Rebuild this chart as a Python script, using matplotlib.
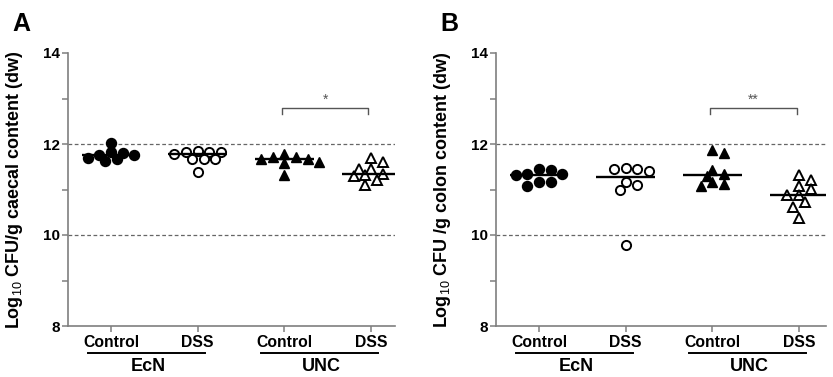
import matplotlib
matplotlib.use('Agg')
import matplotlib.pyplot as plt
import numpy as np
from matplotlib.transforms import blended_transform_factory

plt.rcParams['font.family'] = ['Liberation Sans', 'DejaVu Sans']
plt.rcParams['mathtext.fontset'] = 'custom'
plt.rcParams['mathtext.rm'] = 'Liberation Sans'
plt.rcParams['mathtext.bf'] = 'Liberation Sans:bold'

# ---------------- data ----------------
categories = ['Control', 'DSS', 'Control', 'DSS']
group_names = ['EcN', 'UNC']

caecal_ecn_control = [12.02, 11.82, 11.80, 11.75, 11.75, 11.70, 11.68, 11.62]
caecal_ecn_dss = [11.78, 11.83, 11.68, 11.83, 11.68, 11.83, 11.68, 11.85, 11.38]
caecal_unc_control = [11.68, 11.61, 11.72, 11.59, 11.77, 11.66, 11.72, 11.31]
caecal_unc_dss = [11.70, 11.61, 11.35, 11.44, 11.46, 11.29, 11.09, 11.20, 11.31]

colon_ecn_control = [11.46, 11.35, 11.16, 11.33, 11.07, 11.42, 11.16, 11.31]
colon_ecn_dss = [11.44, 11.40, 11.44, 11.48, 11.09, 11.00, 11.16, 9.78]
colon_unc_control = [11.81, 11.86, 11.42, 11.33, 11.29, 11.16, 11.07, 11.11]
colon_unc_dss = [11.20, 11.31, 11.02, 11.07, 10.87, 10.89, 10.72, 10.61, 10.37]

y_ticks = [8, 10, 12, 14]
ref_lines = [10, 12]
sig_A = '*'
sig_B = '**'

panels = [
    dict(letter='A', ylabel='Log$_{10}$ CFU/g caecal content (dw)',
         data=[caecal_ecn_control, caecal_ecn_dss, caecal_unc_control, caecal_unc_dss],
         sig=sig_A),
    dict(letter='B', ylabel='Log$_{10}$ CFU /g colon content (dw)',
         data=[colon_ecn_control, colon_ecn_dss, colon_unc_control, colon_unc_dss],
         sig=sig_B),
]

markers = ['o', 'o', '^', '^']
filled = [True, False, True, False]

W, H = 833, 377
fig = plt.figure(figsize=(W / 100, H / 100), dpi=100)
ax_rects = [
    [68 / W, 51 / H, 327 / W, 273 / H],
    [496 / W, 51 / H, 330 / W, 273 / H],
]
xlims = [(-0.496, 3.276), (-0.496, 3.31)]
gray = '#7f7f7f'


def swarm_offsets(ax, xc, vals, d_px=8.0, step_px=5.85):
    """Deterministic beeswarm: returns x positions (data units)."""
    t = ax.transData
    pts = [t.transform((xc, v)) for v in vals]
    order = np.argsort(-np.asarray(vals))
    placed = []
    xs = [None] * len(vals)
    for idx in order:
        px, py = pts[idx]
        k = 0
        cands = [0]
        for j in range(1, 40):
            cands += [j, -j]
        for c in cands:
            x = px + c * step_px
            ok = all((x - qx) ** 2 + (py - qy) ** 2 >= d_px ** 2 for qx, qy in placed)
            if ok:
                placed.append((x, py))
                xs[idx] = t.inverted().transform((x, py))[0]
                break
    return xs


for p, rect, xl in zip(panels, ax_rects, xlims):
    ax = fig.add_axes(rect)
    ax.set_xlim(*xl)
    ax.set_ylim(8, 14)
    for s in ['top', 'right']:
        ax.spines[s].set_visible(False)
    for s in ['left', 'bottom']:
        ax.spines[s].set_color(gray)
        ax.spines[s].set_linewidth(1.2)
    ax.set_yticks(y_ticks)
    ax.set_yticks([9, 11, 13], minor=True)
    ax.set_xticks(range(len(categories)))
    ax.set_xticklabels(categories, fontsize=11.3, fontweight='bold')
    ax.set_yticklabels([str(v) for v in y_ticks], fontsize=11, fontweight='bold')
    ax.tick_params(axis='both', which='both', color=gray, width=1.1, length=4.5, direction='out')
    ax.tick_params(axis='y', pad=1.5)
    ax.tick_params(axis='x', pad=2)
    for r in ref_lines:
        ax.axhline(r, color='#666666', lw=0.9, ls=(0, (3, 2)), zorder=1)

    ax.set_ylabel(p['ylabel'], fontsize=13, fontweight='bold')
    ax.yaxis.set_label_coords(-0.131, 0.5)

    for i, vals in enumerate(p['data']):
        xs = swarm_offsets(ax, i, vals)
        if filled[i]:
            ax.plot(xs, vals, ls='none', marker=markers[i], ms=7.2 if markers[i] == 'o' else 7.8,
                    mfc='black', mec='black', zorder=3)
        else:
            ax.plot(xs, vals, ls='none', marker=markers[i], ms=6.6 if markers[i] == 'o' else 7.4,
                    mfc='white', mec='black', mew=1.4, zorder=3)
        med = np.median(vals)
        ax.plot([i - 0.34, i + 0.34], [med, med], color='black', lw=1.7, zorder=4,
                solid_capstyle='butt')

    # significance bracket between UNC Control and UNC DSS
    x1, x2 = 2 - 0.03, 3 - 0.03
    ax.plot([x1, x1, x2, x2], [12.67, 12.80, 12.80, 12.67], color='#555555', lw=1.0)
    ax.text((x1 + x2) / 2, 12.82, p['sig'], ha='center', va='bottom', fontsize=10,
            color='#555555', fontweight='normal')

    # group underlines and labels
    tr = blended_transform_factory(ax.transData, ax.transAxes)
    for g, name in enumerate(group_names):
        a = 2 * g
        ax.plot([a - 0.27, a + 1.08], [-0.099, -0.099], color='black', lw=1.4,
                transform=tr, clip_on=False)
        ax.text(a + 0.43, -0.15, name, transform=tr, ha='center', va='center',
                fontsize=13, fontweight='bold')

    fig.text(rect[0] - 56 / W, 1 - 24 / H, p['letter'], fontsize=18, fontweight='bold',
             ha='left', va='center')

fig.savefig('out.png', dpi=100)
